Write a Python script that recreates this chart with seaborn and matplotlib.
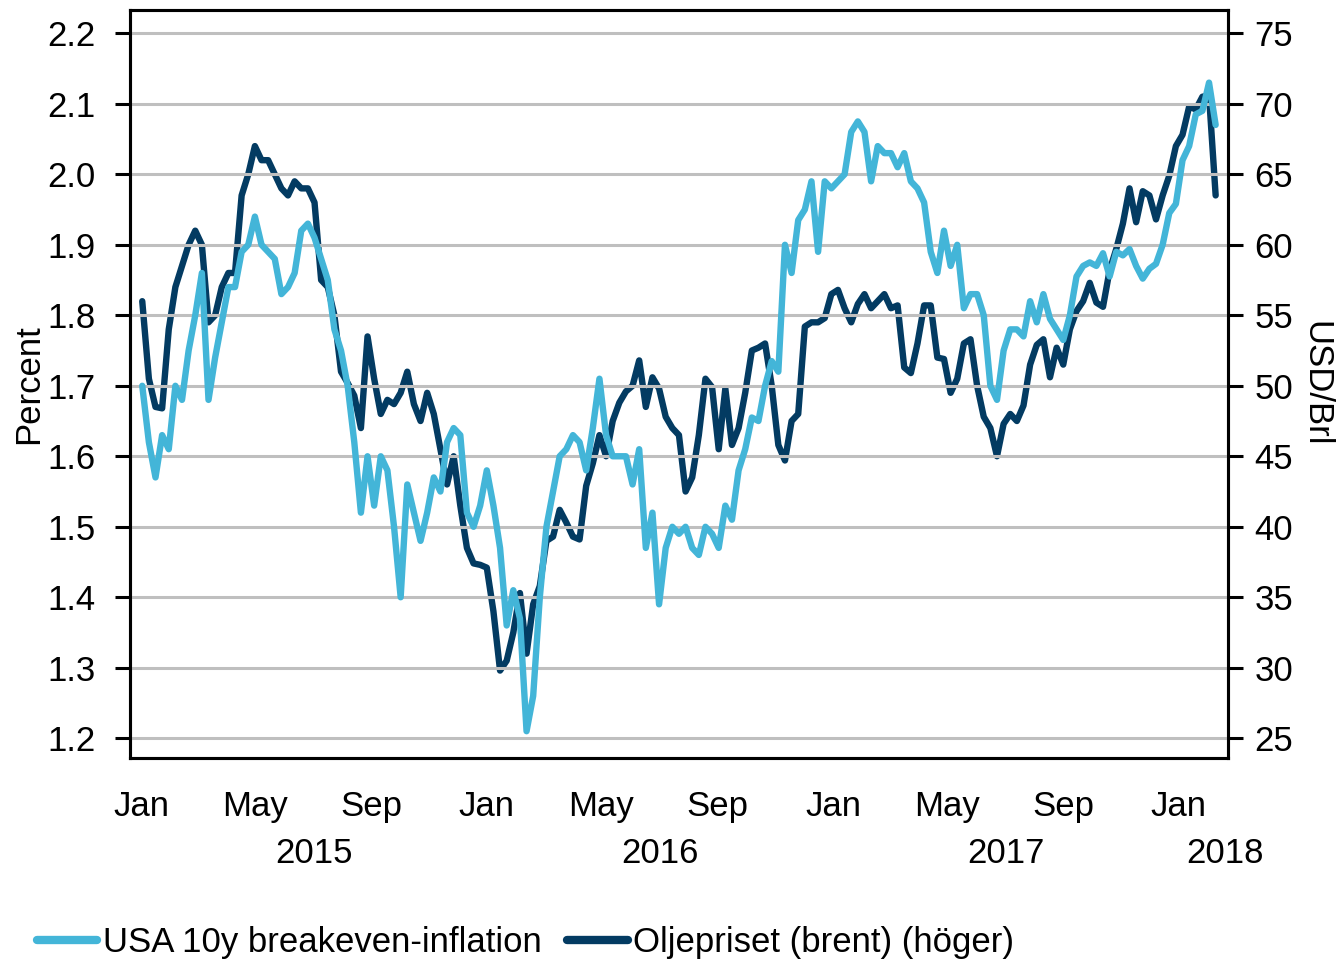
import numpy as np
import pandas as pd
import matplotlib
matplotlib.use("Agg")
import matplotlib.pyplot as plt
import matplotlib.dates as mdates
import seaborn as sns

# Weekly observations, first week 2015-01-02
start_date = "2015-01-02"

breakeven = [
    1.70, 1.62, 1.57, 1.63, 1.61, 1.70, 1.68, 1.75, 1.80, 1.86,
    1.68, 1.74, 1.79, 1.84, 1.84, 1.89, 1.90, 1.94, 1.90, 1.89,
    1.88, 1.83, 1.84, 1.86, 1.92, 1.93, 1.91, 1.88, 1.85, 1.78,
    1.75, 1.70, 1.62, 1.52, 1.60, 1.53, 1.60, 1.58, 1.50, 1.40,
    1.56, 1.52, 1.48, 1.52, 1.57, 1.55, 1.62, 1.64, 1.63, 1.52,
    1.50, 1.53, 1.58, 1.53, 1.47, 1.36, 1.41, 1.37, 1.21, 1.26,
    1.40, 1.50, 1.55, 1.60, 1.61, 1.63, 1.62, 1.58, 1.64, 1.71,
    1.63, 1.60, 1.60, 1.60, 1.56, 1.61, 1.47, 1.52, 1.39, 1.47,
    1.50, 1.49, 1.50, 1.47, 1.46, 1.50, 1.49, 1.47, 1.53, 1.51,
    1.58, 1.61, 1.655, 1.65, 1.70, 1.735, 1.72, 1.90, 1.86, 1.935,
    1.95, 1.99, 1.89, 1.99, 1.98, 1.99, 2.00, 2.06, 2.075, 2.06,
    1.99, 2.04, 2.03, 2.03, 2.01, 2.03, 1.99, 1.98, 1.96, 1.89,
    1.86, 1.92, 1.87, 1.90, 1.81, 1.83, 1.83, 1.80, 1.70, 1.68,
    1.75, 1.78, 1.78, 1.77, 1.82, 1.79, 1.83, 1.795, 1.78, 1.765,
    1.80, 1.855, 1.87, 1.875, 1.87, 1.888, 1.855, 1.89, 1.885, 1.894,
    1.87, 1.852, 1.866, 1.873, 1.90, 1.945, 1.958, 2.02, 2.04, 2.085,
    2.09, 2.13, 2.07,
]

brent = [
    56.0, 50.5, 48.5, 48.4, 54.0, 57.0, 58.5, 60.0, 61.0, 60.0,
    54.5, 55.0, 57.0, 58.0, 58.0, 63.5, 65.0, 67.0, 66.0, 66.0,
    65.0, 64.0, 63.5, 64.5, 64.0, 64.0, 63.0, 57.5, 57.0, 55.0,
    51.0, 50.2, 49.3, 47.0, 53.5, 50.5, 48.0, 49.0, 48.7, 49.5,
    51.0, 48.7, 47.5, 49.5, 48.0, 45.5, 43.0, 45.0, 41.5, 38.5,
    37.4, 37.3, 37.1, 34.0, 29.8, 30.5, 32.5, 35.3, 31.0, 34.5,
    35.8, 39.0, 39.3, 41.2, 40.3, 39.3, 39.1, 42.9, 44.5, 46.5,
    45.0, 47.5, 48.8, 49.6, 50.0, 51.8, 48.5, 50.6, 49.8, 47.8,
    47.0, 46.5, 42.5, 43.5, 46.5, 50.5, 49.9, 45.5, 49.8, 45.8,
    47.0, 49.5, 52.5, 52.7, 53.0, 50.0, 45.8, 44.7, 47.5, 48.0,
    54.2, 54.5, 54.5, 54.8, 56.5, 56.8, 55.5, 54.5, 55.8, 56.5,
    55.5, 56.0, 56.5, 55.5, 55.7, 51.3, 50.9, 53.0, 55.7, 55.7,
    52.0, 51.9, 49.5, 50.5, 53.0, 53.3, 50.0, 47.8, 47.0, 45.0,
    47.3, 48.0, 47.5, 48.6, 51.5, 52.9, 53.3, 50.6, 52.7, 51.5,
    54.0, 55.3, 56.0, 57.3, 55.9, 55.6, 58.2, 59.7, 61.5, 64.0,
    61.6, 63.8, 63.5, 61.8, 63.5, 64.9, 67.0, 67.8, 69.8, 69.6,
    70.5, 70.6, 63.5,
]

left_ticks = [1.2, 1.3, 1.4, 1.5, 1.6, 1.7, 1.8, 1.9, 2.0, 2.1, 2.2]
right_ticks = [25, 30, 35, 40, 45, 50, 55, 60, 65, 70, 75]
years = ["2015", "2016", "2017", "2018"]
year_pos = ["2015-07-02", "2016-07-02", "2017-07-02", "2018-02-19"]

label_be = "USA 10y breakeven-inflation"
label_oil = "Oljepriset (brent) (höger)"

df = pd.DataFrame({
    "date": pd.date_range(start_date, periods=len(breakeven), freq="7D"),
    "breakeven": breakeven,
    "brent": brent,
})

light = "#43B5D8"
dark = "#033B62"
grid_col = "#BFBFBF"

sns.set_style("white")
plt.rcParams["font.family"] = ["Liberation Sans", "DejaVu Sans"]
plt.rcParams["text.color"] = "black"
plt.rcParams["axes.labelcolor"] = "black"
fs = 25

fig = plt.figure(figsize=(13.41, 9.64), dpi=100)
ax = fig.add_axes([0.0969, 0.2137, 0.8188, 0.7759])
ax2 = ax.twinx()

sns.lineplot(data=df, x="date", y="breakeven", ax=ax, color=light, lw=4.6,
             label=label_be, legend=False)
sns.lineplot(data=df, x="date", y="brent", ax=ax2, color=dark, lw=4.6,
             label=label_oil, legend=False)

ax.set_ylim(1.172, 2.233)
ax2.set_ylim(23.6, 76.65)
ax.set_yticks(left_ticks)
ax.set_yticklabels([f"{v:.1f}" for v in left_ticks])
ax2.set_yticks(right_ticks)
ax.set_xlim(pd.Timestamp("2014-12-20"), pd.Timestamp("2018-02-22"))

ax.yaxis.grid(True, color=grid_col, lw=2.2)
ax.set_axisbelow(True)
ax.set_zorder(ax2.get_zorder() + 1)
ax.patch.set_visible(False)

ax.xaxis.set_major_locator(mdates.MonthLocator(bymonth=[1, 5, 9]))
ax.xaxis.set_major_formatter(mdates.DateFormatter("%b"))

for a in (ax, ax2):
    for s in a.spines.values():
        s.set_color("black")
        s.set_linewidth(2.2)
        s.set_visible(True)
ax.tick_params(axis="both", which="major", direction="out", length=11, width=2.2,
               labelsize=fs, colors="black")
ax.tick_params(axis="y", pad=14)
ax.tick_params(axis="x", pad=12)
ax2.tick_params(axis="y", direction="out", length=11, width=2.2,
                labelsize=fs, colors="black", pad=8)

ax.set_xlabel("")
ax.set_ylabel("Percent", fontsize=fs, labelpad=1)
ax2.set_ylabel("USD/Brl", fontsize=fs, rotation=270, labelpad=28)

for yr, pos in zip(years, year_pos):
    ax.text(pd.Timestamp(pos), -0.128, yr, transform=ax.get_xaxis_transform(),
            ha="center", va="center", fontsize=fs)

h1, l1 = ax.get_legend_handles_labels()
h2, l2 = ax2.get_legend_handles_labels()
leg = fig.legend(h1 + h2, l1 + l2, loc="center left", bbox_to_anchor=(0.004, 0.022),
                 ncol=2, frameon=False, fontsize=fs, handlelength=1.75,
                 handletextpad=0.15, columnspacing=0.75)
for line in leg.get_lines():
    line.set_linewidth(6)

fig.savefig("out.png", dpi=100)
